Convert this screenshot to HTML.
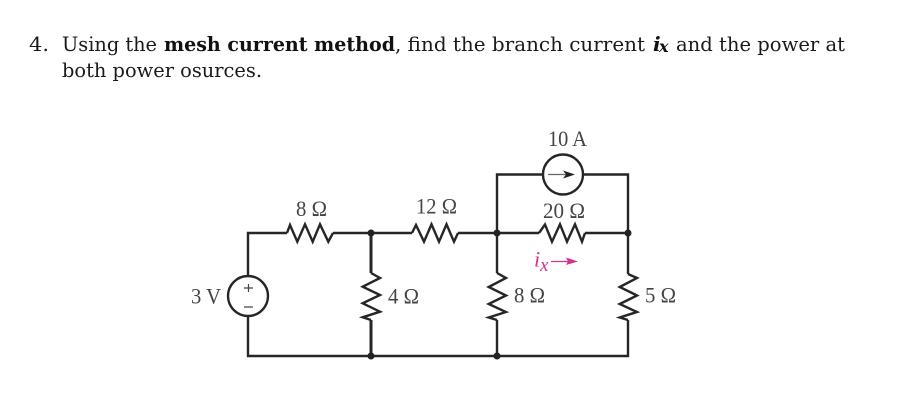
<!DOCTYPE html>
<html><head><meta charset="utf-8"><style>
html,body{margin:0;padding:0;background:#fff}
svg{display:block}
.t{font-family:"DejaVu Serif","Liberation Serif",serif;font-size:20px;fill:#1a1a1a}
.b{font-weight:bold;fill:#111}
.c{font-family:"Liberation Serif",serif;font-size:22px;fill:#444}
.w{fill:none;stroke:#262626;stroke-width:2.4;stroke-linejoin:miter}
</style></head><body>
<svg width="900" height="418" viewBox="0 0 900 418" xmlns="http://www.w3.org/2000/svg">
<rect width="900" height="418" fill="#fff"/>
<text class="t" x="29" y="51" textLength="20" lengthAdjust="spacingAndGlyphs">4.</text>
<text class="t" x="62" y="51" textLength="95" lengthAdjust="spacingAndGlyphs">Using the</text>
<text class="t b" x="164" y="51" textLength="231" lengthAdjust="spacingAndGlyphs">mesh current method</text>
<text class="t" x="395" y="51" textLength="250" lengthAdjust="spacingAndGlyphs">, find the branch current</text>
<text class="t b" x="653" y="51" font-style="italic">i</text>
<text class="t b" x="659" y="52" font-style="italic" style="font-size:16px">x</text>
<text class="t" x="676" y="51" textLength="169" lengthAdjust="spacingAndGlyphs">and the power at</text>
<text class="t" x="62" y="77" textLength="200" lengthAdjust="spacingAndGlyphs">both power osurces.</text>

<!-- wires -->
<path class="w" d="M248 276V233H287M333 233H412M458 233H539M585 233H628V174.500H583M543 174.500H497V273M248 316V356H628V320M628 233V274M497 320V356"/>
<path fill="none" stroke="#262626" stroke-width="3" d="M371 233V273M371 320V356"/>
<!-- resistors -->
<path class="w" d="M287 233L290 225L297.300 241.700L305 224.300L312.700 241.700L320 224.300L328.300 241.700L333 233"/>
<path class="w" d="M412 233L416 225L424 241.700L431.500 224.300L439 241.700L446.500 224.300L454 241.700L458 233"/>
<path class="w" d="M539 233L545 224.500L552 241.700L560 224.300L567 241.700L575 224.300L582 241.700L585 233"/>
<path class="w" d="M371 273L380 278L362.700 286.700L380 295L362.700 303.300L380 311.700L362.700 317.300L371 320"/>
<path class="w" d="M497 273L506 278L488.700 287L506 295.500L488.700 304L506 312L488.700 317.500L497 320"/>
<path class="w" d="M628 274L637 278L619.700 287L637 295.500L619.700 304L637 312L619.700 317.500L628 320"/>
<!-- nodes -->
<circle cx="371" cy="233" r="3.500" fill="#222"/>
<circle cx="371" cy="356" r="3.500" fill="#222"/>
<circle cx="497" cy="233" r="3.500" fill="#222"/>
<circle cx="497" cy="356" r="3.500" fill="#222"/>
<circle cx="628" cy="233" r="3.500" fill="#222"/>
<!-- sources -->
<circle cx="248" cy="296" r="20" fill="#fff" stroke="#262626" stroke-width="2.400"/>
<path d="M244 288H253M248.500 284V292M244 307H253" stroke="#444" stroke-width="1.200" fill="none"/>
<circle cx="563" cy="174.500" r="20" fill="#fff" stroke="#262626" stroke-width="2.400"/>
<path d="M548 174.500H570" stroke="#666" stroke-width="1.200"/>
<path d="M563 170.500L575 174.500L563 178.500L566 174.500Z" fill="#222"/>
<!-- labels -->
<text class="c" x="296" y="216" textLength="31" lengthAdjust="spacingAndGlyphs">8 Ω</text>
<text class="c" x="416" y="213.500" textLength="41" lengthAdjust="spacingAndGlyphs">12 Ω</text>
<text class="c" x="543" y="218" textLength="42" lengthAdjust="spacingAndGlyphs">20 Ω</text>
<text class="c" x="548" y="146" textLength="39" lengthAdjust="spacingAndGlyphs">10 A</text>
<text class="c" x="191" y="303.500" textLength="30" lengthAdjust="spacingAndGlyphs">3 V</text>
<text class="c" x="388" y="303.500" textLength="31" lengthAdjust="spacingAndGlyphs">4 Ω</text>
<text class="c" x="514" y="302.500" textLength="31" lengthAdjust="spacingAndGlyphs">8 Ω</text>
<text class="c" x="645" y="302.500" textLength="31" lengthAdjust="spacingAndGlyphs">5 Ω</text>
<!-- ix -->
<text x="534" y="266.500" font-family="Liberation Serif,serif" font-style="italic" font-size="22" fill="#d8308f">i</text>
<text x="540" y="271" font-family="Liberation Serif,serif" font-style="italic" font-size="19" fill="#d8308f">x</text>
<path d="M551 261.500H568" stroke="#d8308f" stroke-width="1.300"/>
<path d="M566 257.500L578 261.500L566 265L568 261.500Z" fill="#d8308f"/>
</svg>
</body></html>
